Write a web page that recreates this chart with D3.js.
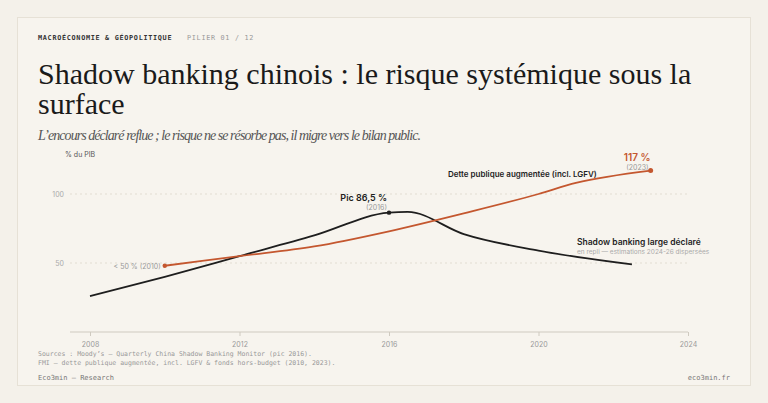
<!DOCTYPE html>
<html><head><meta charset="utf-8">
<script src="https://cdn.jsdelivr.net/npm/d3@7"></script>
<style>
body{margin:0;background:#f4f1ea;}
svg{display:block;}
</style></head><body>
<svg id="chart"></svg>
<script>
// données
const shadowYears = [2008, 2010, 2012, 2014, 2016, 2016.5, 2018, 2020, 2022.5];
const shadowVals = [26, 40, 55, 70, 86.5, 87, 71, 59, 49];
const publicYears = [2010, 2012, 2014, 2016, 2018, 2020, 2021, 2023];
const publicVals = [48, 55, 62, 73, 86, 100, 108, 117];
const xTicks = [2008, 2012, 2016, 2020, 2024];
const yTicks = [50, 100];

let w = 768, h = 403;
let svg = d3.select('#chart').attr('width', w).attr('height', h);
svg.append('rect').attr('x', 17.5).attr('y', 17.5).attr('width', 733).attr('height', 368)
	.attr('fill', '#f7f4ee').attr('stroke', '#e6e1d6');

const mono = "'DejaVu Sans Mono', monospace";
const serif = "'Liberation Serif', serif";
const sans = "Inter, 'Noto Sans', sans-serif";

let head = svg.append('text').attr('x', 38).attr('y', 40).attr('font-family', mono).attr('font-size', 6.8)
	.attr('letter-spacing', 0.7);
head.append('tspan').attr('font-weight', 'bold').attr('fill', '#333').text('MACROÉCONOMIE & GÉOPOLITIQUE');
head.append('tspan').attr('x', 187).attr('fill', '#999').text('PILIER 01 / 12');
svg.append('text').attr('x', 38).attr('y', 84).attr('font-family', serif).attr('font-size', 30)
	.attr('fill', '#1a1a1a').text('Shadow banking chinois : le risque systémique sous la');
svg.append('text').attr('x', 38).attr('y', 114).attr('font-family', serif).attr('font-size', 30)
	.attr('fill', '#1a1a1a').text('surface');
svg.append('text').attr('x', 38).attr('y', 140).attr('font-family', serif).attr('font-style', 'italic')
	.attr('font-size', 14).attr('fill', '#555').attr('textLength', 383)
	.text('L’encours déclaré reflue ; le risque ne se résorbe pas, il migre vers le bilan public.');

let x = d3.scaleLinear().domain([2008, 2024]).range([90, 688]);
let y = d3.scaleLinear().domain([0, 100]).range([332, 194]);

// grille
svg.append('g').selectAll('line').data(yTicks).enter().append('line')
	.attr('x1', 70).attr('x2', 688).attr('y1', d => y(d)).attr('y2', d => y(d))
	.attr('stroke', '#e2ddd2').attr('stroke-dasharray', '2,3');
svg.append('g').selectAll('text').data(yTicks).enter().append('text')
	.attr('x', 64).attr('y', d => y(d) + 3).attr('text-anchor', 'end')
	.attr('font-family', sans).attr('font-size', 7).attr('fill', '#aaa').text(d => d);
svg.append('text').attr('x', 65).attr('y', 157).attr('font-family', sans).attr('font-size', 7)
	.attr('fill', '#555').text('% du PIB');

let xAxis = d3.axisBottom(x).tickValues(xTicks).tickFormat(d3.format('d')).tickSize(4);
let ax = svg.append('g').attr('transform', `translate(0,${y(0)})`).call(xAxis);
ax.select('.domain').attr('stroke', '#cfcac0').attr('d', 'M70,0H688');
ax.selectAll('line').attr('stroke', '#cfcac0');
ax.selectAll('text').attr('font-family', sans).attr('font-size', 7).attr('fill', '#999').attr('dy', '1.1em');

let line = d3.line().x(d => x(d[0])).y(d => y(d[1])).curve(d3.curveMonotoneX);
svg.append('path').datum(shadowYears.map((v, i) => [v, shadowVals[i]]))
	.attr('d', line).attr('fill', 'none').attr('stroke', '#1e1e1e').attr('stroke-width', 1.8);
svg.append('path').datum(publicYears.map((v, i) => [v, publicVals[i]]))
	.attr('d', line).attr('fill', 'none').attr('stroke', '#c4572f').attr('stroke-width', 1.8);

svg.append('circle').attr('cx', x(2016)).attr('cy', y(86.5)).attr('r', 2.2).attr('fill', '#1e1e1e');
svg.append('circle').attr('cx', x(2010)).attr('cy', y(48)).attr('r', 2.2).attr('fill', '#c4572f');
svg.append('circle').attr('cx', x(2023)).attr('cy', y(117)).attr('r', 2.5).attr('fill', '#c4572f');

function label(tx, ty, t, size, fill, weight, anchor) {
	svg.append('text').attr('x', tx).attr('y', ty).attr('font-family', sans).attr('font-size', size)
		.attr('fill', fill).attr('font-weight', weight || 'normal').attr('text-anchor', anchor || 'start').text(t);
}
label(x(2016) - 2, y(86.5) - 12, 'Pic 86,5 %', 9, '#1e1e1e', 600, 'end');
label(x(2016) - 2, y(86.5) - 3, '(2016)', 7, '#999', 'normal', 'end');
label(x(2010) - 4, y(48) + 3, '< 50 % (2010)', 7, '#999', 'normal', 'end');
label(x(2023), y(117) - 10, '117 %', 10, '#c4572f', 600, 'end');
label(x(2023) - 2, y(117) - 1, '(2023)', 7, '#999', 'normal', 'end');
label(448, 177, 'Dette publique augmentée (incl. LGFV)', 8, '#1e1e1e', 600);
label(577, 245, 'Shadow banking large déclaré', 8.5, '#1e1e1e', 600);
label(577, 254, 'en repli — estimations 2024-26 dispersées', 6.5, '#aaa');

svg.append('text').attr('x', 38).attr('y', 356).attr('font-family', mono).attr('font-size', 6.5)
	.attr('fill', '#999').text('Sources : Moody’s — Quarterly China Shadow Banking Monitor (pic 2016).');
svg.append('text').attr('x', 38).attr('y', 365).attr('font-family', mono).attr('font-size', 6.5)
	.attr('fill', '#999').text('FMI — dette publique augmentée, incl. LGFV & fonds hors-budget (2010, 2023).');
svg.append('text').attr('x', 38).attr('y', 380).attr('font-family', mono).attr('font-size', 7)
	.attr('fill', '#777').text('Eco3min — Research');
svg.append('text').attr('x', 730).attr('y', 380).attr('font-family', mono).attr('font-size', 7)
	.attr('fill', '#777').attr('text-anchor', 'end').text('eco3min.fr');
</script></body></html>
